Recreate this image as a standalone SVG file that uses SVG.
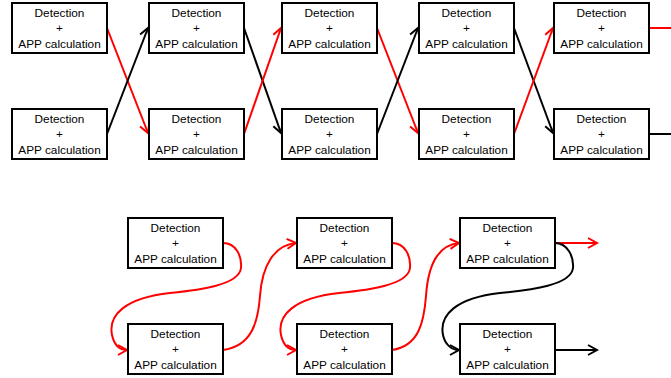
<svg xmlns="http://www.w3.org/2000/svg" width="671" height="378" viewBox="0 0 671 378">
<style>
.box{fill:#fff;stroke:#000;stroke-width:2}
.t{font-family:"Liberation Sans",Arial,sans-serif;font-size:11.8px;fill:#000;text-anchor:middle}
.r{fill:none;stroke:#ff0000;stroke-width:2}
.k{fill:none;stroke:#000;stroke-width:2}
.ra{marker-end:url(#ar)}
.ka{marker-end:url(#ak)}
</style>
<defs>
<marker id="ar" markerUnits="userSpaceOnUse" markerWidth="14" markerHeight="14" refX="10" refY="6" orient="auto" viewBox="0 0 14 12"><path d="M1,1 L10,6 L1,11" fill="none" stroke="#ff0000" stroke-width="2"/></marker>
<marker id="ak" markerUnits="userSpaceOnUse" markerWidth="14" markerHeight="14" refX="10" refY="6" orient="auto" viewBox="0 0 14 12"><path d="M1,1 L10,6 L1,11" fill="none" stroke="#000" stroke-width="2"/></marker>
<g id="node">
<rect class="box" x="0" y="0" width="95" height="50"/>
<text class="t" x="47.5" y="13.5">Detection</text>
<text class="t" x="47.5" y="29">+</text>
<text class="t" x="47.5" y="44.5">APP calculation</text>
</g>
</defs>
<g id="connectors">
<line class="r ra" x1="107" y1="28" x2="148" y2="133"/>
<line class="k ka" x1="107" y1="134" x2="148" y2="28"/>
<line class="k ka" x1="244" y1="28" x2="281" y2="133"/>
<line class="r ra" x1="244" y1="134" x2="281" y2="28"/>
<line class="r ra" x1="377" y1="28" x2="418" y2="133"/>
<line class="k ka" x1="377" y1="134" x2="418" y2="28"/>
<line class="k ka" x1="514" y1="28" x2="553" y2="133"/>
<line class="r ra" x1="514" y1="134" x2="553" y2="28"/>
<line class="r" x1="649" y1="28" x2="671" y2="28"/>
<line class="k" x1="649" y1="134" x2="671" y2="134"/>
<path class="r ra" d="M223,243 C236,243 242,256 241,268 C239,285 200,290 170,293 C125,298 108,315 112,335 C114,344 119,350 127,350"/>
<path class="r ra" d="M223,350 C252,346 258,322 260,296 C262,266 274,245 296,243"/>
<path class="r ra" d="M392,243 C405,243 411,256 410,268 C408,285 369,290 339,293 C294,298 277,315 281,335 C283,344 288,350 296,350"/>
<path class="r ra" d="M392,350 C419,346 424,322 426,296 C428,266 438,245 459,243"/>
<path class="r ra" d="M555,243 L597,243"/>
<path class="k ka" d="M555,243 C567,243 574,256 573,268 C571,285 532,290 500,293 C456,298 439,315 443,335 C445,344 451,350 459,350"/>
<path class="k ka" d="M555,350 L597,350"/>
</g>
<g id="n1"><use href="#node" x="12" y="3"/></g>
<g id="n2"><use href="#node" x="149" y="3"/></g>
<g id="n3"><use href="#node" x="282" y="3"/></g>
<g id="n4"><use href="#node" x="419" y="3"/></g>
<g id="n5"><use href="#node" x="554" y="3"/></g>
<g id="n6"><use href="#node" x="12" y="109"/></g>
<g id="n7"><use href="#node" x="149" y="109"/></g>
<g id="n8"><use href="#node" x="282" y="109"/></g>
<g id="n9"><use href="#node" x="419" y="109"/></g>
<g id="n10"><use href="#node" x="554" y="109"/></g>
<g id="n11"><use href="#node" x="128" y="218"/></g>
<g id="n12"><use href="#node" x="128" y="324"/></g>
<g id="n13"><use href="#node" x="297" y="218"/></g>
<g id="n14"><use href="#node" x="297" y="324"/></g>
<g id="n15"><use href="#node" x="460" y="218"/></g>
<g id="n16"><use href="#node" x="460" y="324"/></g>
</svg>
